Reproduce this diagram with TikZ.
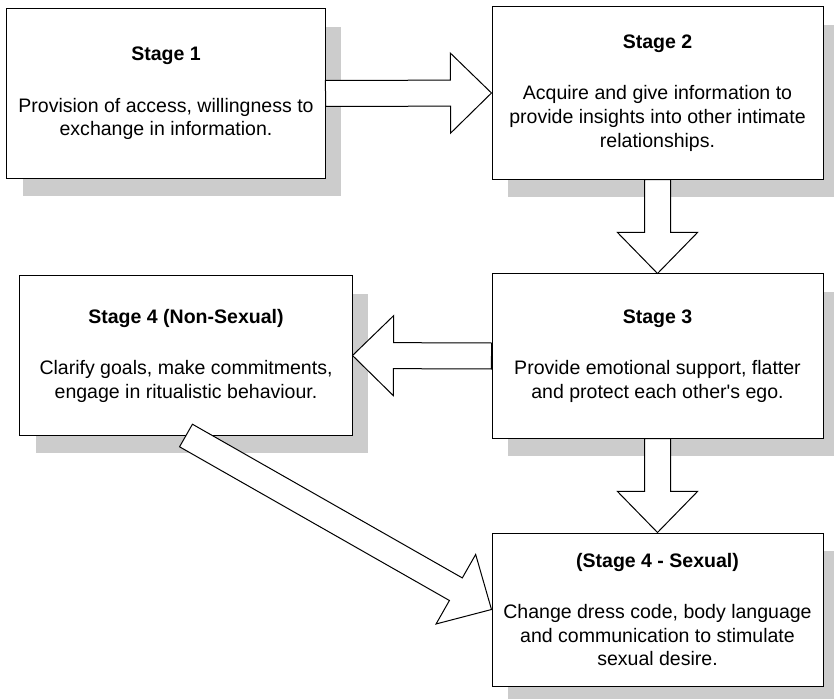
\documentclass[tikz,border=0pt]{standalone}
\usepackage{fontspec}
\setmainfont{Liberation Sans}
\usetikzlibrary{calc,shadows}

% hollow block arrow from #1 (tail) to #2 (tip)
\newcommand{\blockarrow}[2]{%
  \coordinate (head) at ($(#2)!20.5bp!(#1)$);
  \draw[bigarrow] ($(#1)!6.5bp!90:(#2)$) -- ($(head)!6.5bp!-90:(#1)$) -- ($(head)!20bp!-90:(#1)$) -- (#2)
    -- ($(head)!20bp!90:(#1)$) -- ($(head)!6.5bp!90:(#1)$) -- ($(#1)!6.5bp!-90:(#2)$) -- cycle;
}

\begin{document}
\begin{tikzpicture}[x=0.5bp, y=-0.5bp,
  stagebox/.style={draw=black, line width=0.5bp, fill=white, align=center, inner sep=0pt,
    font=\fontsize{9.8}{11.8}\selectfont,
    general shadow={fill=black!20, shadow xshift=8bp, shadow yshift=-9bp}},
  bigarrow/.style={draw=black, line width=0.5bp, fill=white, line join=miter}]
\useasboundingbox (0,0) rectangle (834,699);

\node[stagebox, minimum width=159bp, minimum height=84.5bp] at (166,93.5) (s1)
  {\textbf{Stage 1}\\[14pt] Provision of access, willingness to\\ exchange in information.};
\node[stagebox, minimum width=165.5bp, minimum height=86bp] at (657.5,93) (s2)
  {\textbf{Stage 2}\\[14pt] Acquire and give information to\\ provide insights into other intimate\\ relationships.};
\node[stagebox, minimum width=165.5bp, minimum height=82bp] at (657.5,356) (s3)
  {\textbf{Stage 3}\\[14pt] Provide emotional support, flatter\\ and protect each other\textquotesingle s ego.};
\node[stagebox, minimum width=166bp, minimum height=79.5bp] at (186,355.5) (s4n)
  {\textbf{Stage 4 (Non-Sexual)}\\[14pt] Clarify goals, make commitments,\\ engage in ritualistic behaviour.};
\node[stagebox, minimum width=165.5bp, minimum height=76.5bp] at (657.5,609.5) (s4s)
  {\textbf{(Stage 4 - Sexual)}\\[14pt] Change dress code, body language\\ and communication to stimulate\\ sexual desire.};

\blockarrow{s1.east}{s2.west} % 1 to 2
\blockarrow{s2.south}{s3.north} % 2 to 3
\blockarrow{s3.west}{s4n.east} % 3 to non-sexual
\blockarrow{s3.south}{s4s.north} % 3 to sexual
\blockarrow{s4n.south}{s4s.west} % non-sexual to sexual

\end{tikzpicture}
\end{document}
